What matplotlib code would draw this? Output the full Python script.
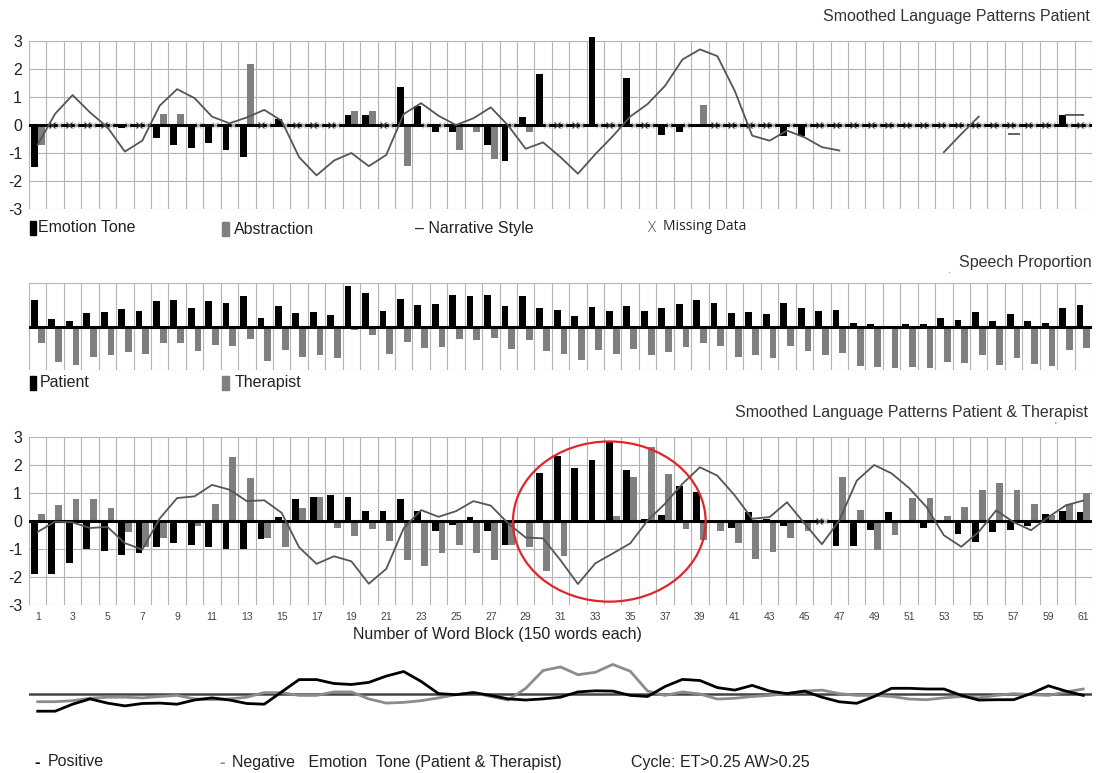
import numpy as np
import matplotlib
matplotlib.use("Agg")
import matplotlib.pyplot as plt
from matplotlib.patches import Ellipse, Rectangle

plt.rcParams["font.family"] = ["Liberation Sans", "DejaVu Sans"]

nan = np.nan
bloques = np.arange(1, 62)

# Panel 1: lenguaje suavizado del paciente
tono_paciente = [
    -1.50, nan, nan, nan, nan, -0.12, nan, -0.47, -0.72, -0.83,
    -0.65, -0.88, -1.15, nan, 0.21, nan, nan, nan, 0.34, 0.34,
    nan, 1.36, 0.69, -0.25, -0.25, -0.08, -0.73, -1.30, 0.27, 1.81,
    nan, nan, 3.14, nan, 1.69, nan, -0.34, -0.26, -0.08, nan,
    nan, nan, nan, -0.40, -0.40, nan, nan, nan, nan, nan,
    nan, nan, nan, nan, nan, nan, nan, nan, nan, 0.36, nan,
]
abstraccion_paciente = [
    -0.73, nan, nan, nan, nan, nan, nan, 0.39, 0.39, nan,
    nan, nan, 2.17, nan, nan, nan, nan, nan, 0.50, 0.50,
    nan, -1.47, nan, nan, -0.91, -0.26, -1.21, nan, -0.26, nan,
    nan, nan, nan, nan, nan, nan, nan, nan, 0.72, nan,
    nan, nan, nan, nan, nan, nan, nan, nan, nan, nan,
    nan, nan, nan, nan, nan, nan, nan, nan, nan, nan, nan,
]
narrativo_paciente = [
    -0.70, 0.40, 1.07, 0.45, -0.08, -0.95, -0.56, 0.69, 1.28, 0.96,
    0.30, 0.06, 0.27, 0.54, 0.15, -1.15, -1.80, -1.27, -1.00, -1.47,
    -1.07, 0.39, 0.78, 0.33, 0.00, 0.24, 0.63, -0.02, -0.85, -0.62,
    -1.15, -1.74, -1.04, -0.40, 0.30, 0.75, 1.40, 2.34, 2.70, 2.46,
    1.22, -0.38, -0.56, -0.20, -0.44, -0.79, -0.91, nan, nan, nan,
    nan, nan, -0.97, -0.32, 0.30, nan, -0.32, nan, nan, 0.36, 0.36,
]

# Panel 2: proporción del habla (%)
habla_paciente = [
    61, 17, 12, 30, 33, 41, 35, 59, 60, 43,
    58, 55, 70, 19, 46, 31, 33, 26, 93, 77,
    35, 63, 49, 52, 72, 70, 73, 48, 70, 42,
    37, 23, 45, 36, 48, 35, 42, 51, 62, 55,
    30, 33, 28, 55, 43, 35, 38, 9, 5, 2,
    5, 5, 19, 16, 33, 12, 28, 12, 9, 43, 49,
]
habla_terapeuta = [
    39, 82, 88, 69, 66, 59, 63, 39, 39, 56,
    42, 45, 28, 80, 54, 69, 66, 73, 7, 20,
    63, 35, 50, 48, 28, 30, 27, 52, 30, 56,
    63, 77, 55, 63, 51, 65, 58, 48, 39, 45,
    70, 66, 72, 45, 56, 65, 61, 90, 94, 96,
    94, 96, 81, 84, 66, 88, 72, 87, 91, 55, 49,
]

# Panel 3: paciente y terapeuta
tono_pt = [
    -1.91, -1.91, -1.51, -1.01, -1.07, -1.20, -1.14, -0.92, -0.79, -0.86,
    -0.93, -1.00, -1.00, -0.64, 0.15, 0.79, 0.85, 0.93, 0.87, 0.36,
    0.36, 0.79, 0.36, -0.35, -0.15, 0.15, -0.35, -0.85, 0.00, 1.73,
    2.33, 1.89, 2.18, 2.84, 1.82, 0.08, 0.22, 1.25, 1.02, 0.00,
    -0.25, 0.32, 0.08, -0.18, 0.00, nan, -0.90, -0.90, -0.33, 0.32,
    0.03, -0.25, 0.03, -0.47, -0.75, -0.39, -0.33, -0.17, 0.24, 0.34, 0.32,
]
abstraccion_pt = [
    0.26, 0.56, 0.80, 0.80, 0.47, -0.40, -0.94, -0.62, 0.05, -0.19,
    0.59, 2.27, 1.53, -0.62, -0.94, 0.47, 0.85, -0.26, -0.54, -0.29,
    -0.72, -1.38, -1.59, -1.15, -0.84, -1.15, -1.38, -0.85, -0.94, -1.79,
    -1.24, -0.06, -0.03, 0.17, 1.56, 2.63, 1.68, -0.27, -0.69, -0.37,
    -0.80, -1.35, -1.12, -0.59, -0.37, nan, 1.56, 0.40, -1.02, -0.49,
    0.82, 0.82, 0.17, 0.50, 1.12, 1.35, 1.12, 0.59, 0.22, 0.62, 0.99,
]
narrativo_pt = [
    -0.39, -0.02, -0.05, -0.25, -0.21, -0.79, -1.02, 0.09, 0.82, 0.88,
    1.29, 1.12, 0.71, 0.74, 0.29, -0.94, -1.53, -1.26, -1.44, -2.24,
    -1.71, -0.26, 0.39, 0.15, 0.35, 0.71, 0.55, -0.09, -0.59, -0.62,
    -1.40, -2.25, -1.51, -1.16, -0.80, 0.02, 0.62, 1.33, 1.92, 1.62,
    0.91, 0.08, 0.14, 0.67, -0.09, -0.83, 0.02, 1.44, 2.00, 1.70,
    1.18, 0.50, -0.51, -0.92, -0.39, 0.38, -0.04, -0.33, 0.14, 0.56, 0.73,
]

# Panel 4: tono emocional positivo / negativo
tono_positivo = [
    -1.72, -1.72, -1.02, -0.49, -0.91, -1.19, -0.95, -0.91, -1.02, -0.60,
    -0.39, -0.60, -0.95, -1.02, 0.21, 1.44, 1.44, 1.05, 0.95, 1.16,
    1.79, 2.25, 1.26, 0.04, -0.07, 0.14, -0.14, -0.49, -0.60, -0.49,
    -0.32, 0.21, 0.32, 0.29, -0.14, -0.25, 0.75, 1.46, 1.35, 0.64,
    0.39, 0.86, 0.29, 0.04, 0.29, -0.32, -0.78, -0.93, -0.25, 0.57,
    0.57, 0.50, 0.50, -0.14, -0.61, -0.57, -0.57, 0.04, 0.82, 0.29, -0.14,
]
tono_negativo = [
    -0.77, -0.77, -0.67, -0.42, -0.32, -0.32, -0.39, -0.25, -0.14, -0.49,
    -0.56, -0.49, -0.32, 0.14, 0.14, -0.14, -0.14, 0.21, 0.21, -0.49,
    -0.91, -0.84, -0.67, -0.39, -0.07, 0.14, -0.25, -0.60, 0.56, 2.35,
    2.71, 1.93, 2.17, 2.96, 2.28, 0.29, -0.14, 0.21, 0.00, -0.50,
    -0.43, -0.25, -0.14, 0.04, 0.29, 0.39, 0.04, -0.14, -0.14, -0.25,
    -0.50, -0.57, -0.39, -0.25, -0.39, -0.14, 0.04, -0.07, -0.14, 0.21, 0.50,
]

W, H = 1099, 773
NEGRO = "#000000"
GRIS = "#7f7f7f"
LINEA = "#555555"
REJILLA = "#b4b4b4"


def caja(x0, y0, x1, y1):
    # pixeles (desde arriba) -> fracciones de figura
    return [x0 / W, 1 - y1 / H, (x1 - x0) / W, (y1 - y0) / H]


def fx(x):
    return x / W


def fy(y):
    return 1 - y / H


def rejilla(ax, ylim, horizontales):
    ax.set_xlim(0.5, 61.5)
    ax.set_ylim(*ylim)
    for x in np.arange(0.5, 62, 1):
        ax.axvline(x, color=REJILLA, lw=0.8, zorder=0)
    for y in horizontales:
        ax.axhline(y, color=REJILLA, lw=0.8, zorder=0)
    ax.axhline(0, color=NEGRO, lw=2.2, zorder=3)
    for s in ax.spines.values():
        s.set_visible(False)
    ax.tick_params(length=0)


def barras_dobles(ax, negras, grises):
    negras = np.array(negras, dtype=float)
    grises = np.array(grises, dtype=float)
    ax.bar(bloques - 0.19, np.nan_to_num(negras), width=0.39,
           color=NEGRO, zorder=2, clip_on=False)
    ax.bar(bloques + 0.2, np.nan_to_num(grises), width=0.39,
           color=GRIS, zorder=2, clip_on=False)
    # datos faltantes
    falta_n = bloques[np.isnan(negras)]
    falta_g = bloques[np.isnan(grises)]
    ax.plot(falta_n - 0.19, np.zeros(len(falta_n)), "x", color="#3a3a3a",
            ms=4.5, mew=0.9, zorder=4, clip_on=False)
    ax.plot(falta_g + 0.2, np.zeros(len(falta_g)), "x", color="#bdbdbd",
            ms=4.5, mew=0.9, zorder=4, clip_on=False)


def eje_y(ax):
    ax.set_yticks(range(-3, 4))
    ax.set_yticklabels([str(v) for v in range(-3, 4)], fontsize=11.5,
                       color="#222222")
    ax.tick_params(axis="y", pad=5)


fig = plt.figure(figsize=(W / 100, H / 100), dpi=100)

# ---- Panel 1
ax1 = fig.add_axes(caja(29, 41, 1092, 209))
rejilla(ax1, (-3, 3), range(-3, 4))
barras_dobles(ax1, tono_paciente, abstraccion_paciente)
narr = np.array(narrativo_paciente, dtype=float)
ax1.plot(bloques, narr, color=LINEA, lw=1.3, zorder=5)
solos = [i for i in range(61)
         if not np.isnan(narr[i])
         and (i == 0 or np.isnan(narr[i - 1]))
         and (i == 60 or np.isnan(narr[i + 1]))]
ax1.plot(bloques[solos], narr[solos], "_", color=LINEA, ms=9, mew=1.3,
         zorder=5)
eje_y(ax1)
ax1.set_xticks([])
fig.text(fx(1090), fy(16), "Smoothed Language Patterns Patient",
         ha="right", va="center", fontsize=11.5, color="#333333")

# leyenda panel 1
fig.add_artist(Rectangle((fx(30), fy(235)), 6 / W, 14 / H, color=NEGRO,
                         transform=fig.transFigure))
fig.text(fx(38), fy(228), "Emotion Tone", ha="left", va="center",
         fontsize=11.5, color="#222222")
fig.add_artist(Rectangle((fx(222), fy(236)), 7 / W, 14 / H, color=GRIS,
                         transform=fig.transFigure))
fig.text(fx(234), fy(230), "Abstraction", ha="left", va="center",
         fontsize=11.5, color="#222222")
fig.text(fx(415), fy(228), "\u2013 Narrative Style", ha="left",
         va="center", fontsize=11.5, color="#222222")
fig.text(fx(648), fy(228), "X", ha="left", va="center", fontsize=11,
         color="#444444", family=["Open Sans", "DejaVu Sans"],
         fontweight="light")
fig.text(fx(663), fy(227), "Missing Data", ha="left", va="center",
         fontsize=10, color="#222222", family=["Open Sans", "DejaVu Sans"])

# ---- Panel 2
ax2 = fig.add_axes(caja(29, 283, 1092, 370))
rejilla(ax2, (-100, 100), [-100, 100])
ax2.bar(bloques - 0.19, habla_paciente, width=0.39, color=NEGRO, zorder=2)
ax2.bar(bloques + 0.2, -np.array(habla_terapeuta), width=0.39, color=GRIS,
        zorder=2)
ax2.set_xticks([])
ax2.set_yticks([])
fig.text(fx(1092), fy(263), "Speech Proportion", ha="right", va="center",
         fontsize=11.5, color="#333333")
fig.text(fx(948), fy(270), ".", ha="center", va="center", fontsize=7,
         color="#555555")

fig.add_artist(Rectangle((fx(30), fy(390)), 6 / W, 14 / H, color=NEGRO,
                         transform=fig.transFigure))
fig.text(fx(40), fy(383), "Patient", ha="left", va="center", fontsize=11.5,
         color="#222222")
fig.add_artist(Rectangle((fx(222), fy(390)), 7 / W, 14 / H, color=GRIS,
                         transform=fig.transFigure))
fig.text(fx(235), fy(383), "Therapist", ha="left", va="center",
         fontsize=11.5, color="#222222")

# ---- Panel 3
ax3 = fig.add_axes(caja(29, 437, 1092, 605))
rejilla(ax3, (-3, 3), range(-3, 4))
barras_dobles(ax3, tono_pt, abstraccion_pt)
ax3.plot(bloques, narrativo_pt, color=LINEA, lw=1.3, zorder=5)
eje_y(ax3)
impares = bloques[::2]
ax3.set_xticks(impares)
ax3.set_xticklabels([str(b) for b in impares], fontsize=7.5,
                    color="#444444")
ax3.tick_params(axis="x", pad=5)
ax3.add_patch(Ellipse((33.8, -0.02), 11.06, 5.72, fill=False,
                      edgecolor="#e0262b", lw=1.6, zorder=6,
                      clip_on=False))
fig.text(fx(497), fy(635), "Number of Word Block (150 words each)",
         ha="center", va="center", fontsize=11.5, color="#222222")
fig.text(fx(1088), fy(412), "Smoothed Language Patterns Patient & Therapist",
         ha="right", va="center", fontsize=11.5, color="#333333")
fig.text(fx(1055), fy(427), "'", ha="center", va="center", fontsize=7,
         color="#555555")

# ---- Panel 4
ax4 = fig.add_axes(caja(29, 644, 1092, 744))
ax4.set_xlim(0.5, 61.5)
ax4.set_ylim(-5, 5)
ax4.axhline(0, color="#444444", lw=1.8, zorder=1)
ax4.plot(bloques, tono_negativo, color="#8c8c8c", lw=2.0, zorder=2)
ax4.plot(bloques, tono_positivo, color=NEGRO, lw=2.0, zorder=3)
ax4.axis("off")

fig.text(fx(34), fy(762), "-", ha="left", va="center", fontsize=12,
         color=NEGRO, fontweight="bold")
fig.text(fx(48), fy(762), "Positive", ha="left", va="center",
         fontsize=11.5, color="#222222")
fig.text(fx(219), fy(762), "-", ha="left", va="center", fontsize=12,
         color="#8c8c8c", fontweight="bold")
fig.text(fx(232), fy(762), "Negative   Emotion  Tone (Patient & Therapist)",
         ha="left", va="center", fontsize=11.5, color="#222222")
fig.text(fx(631), fy(762), "Cycle: ET>0.25 AW>0.25", ha="left",
         va="center", fontsize=11.5, color="#222222")

fig.savefig("out.png", dpi=100)
